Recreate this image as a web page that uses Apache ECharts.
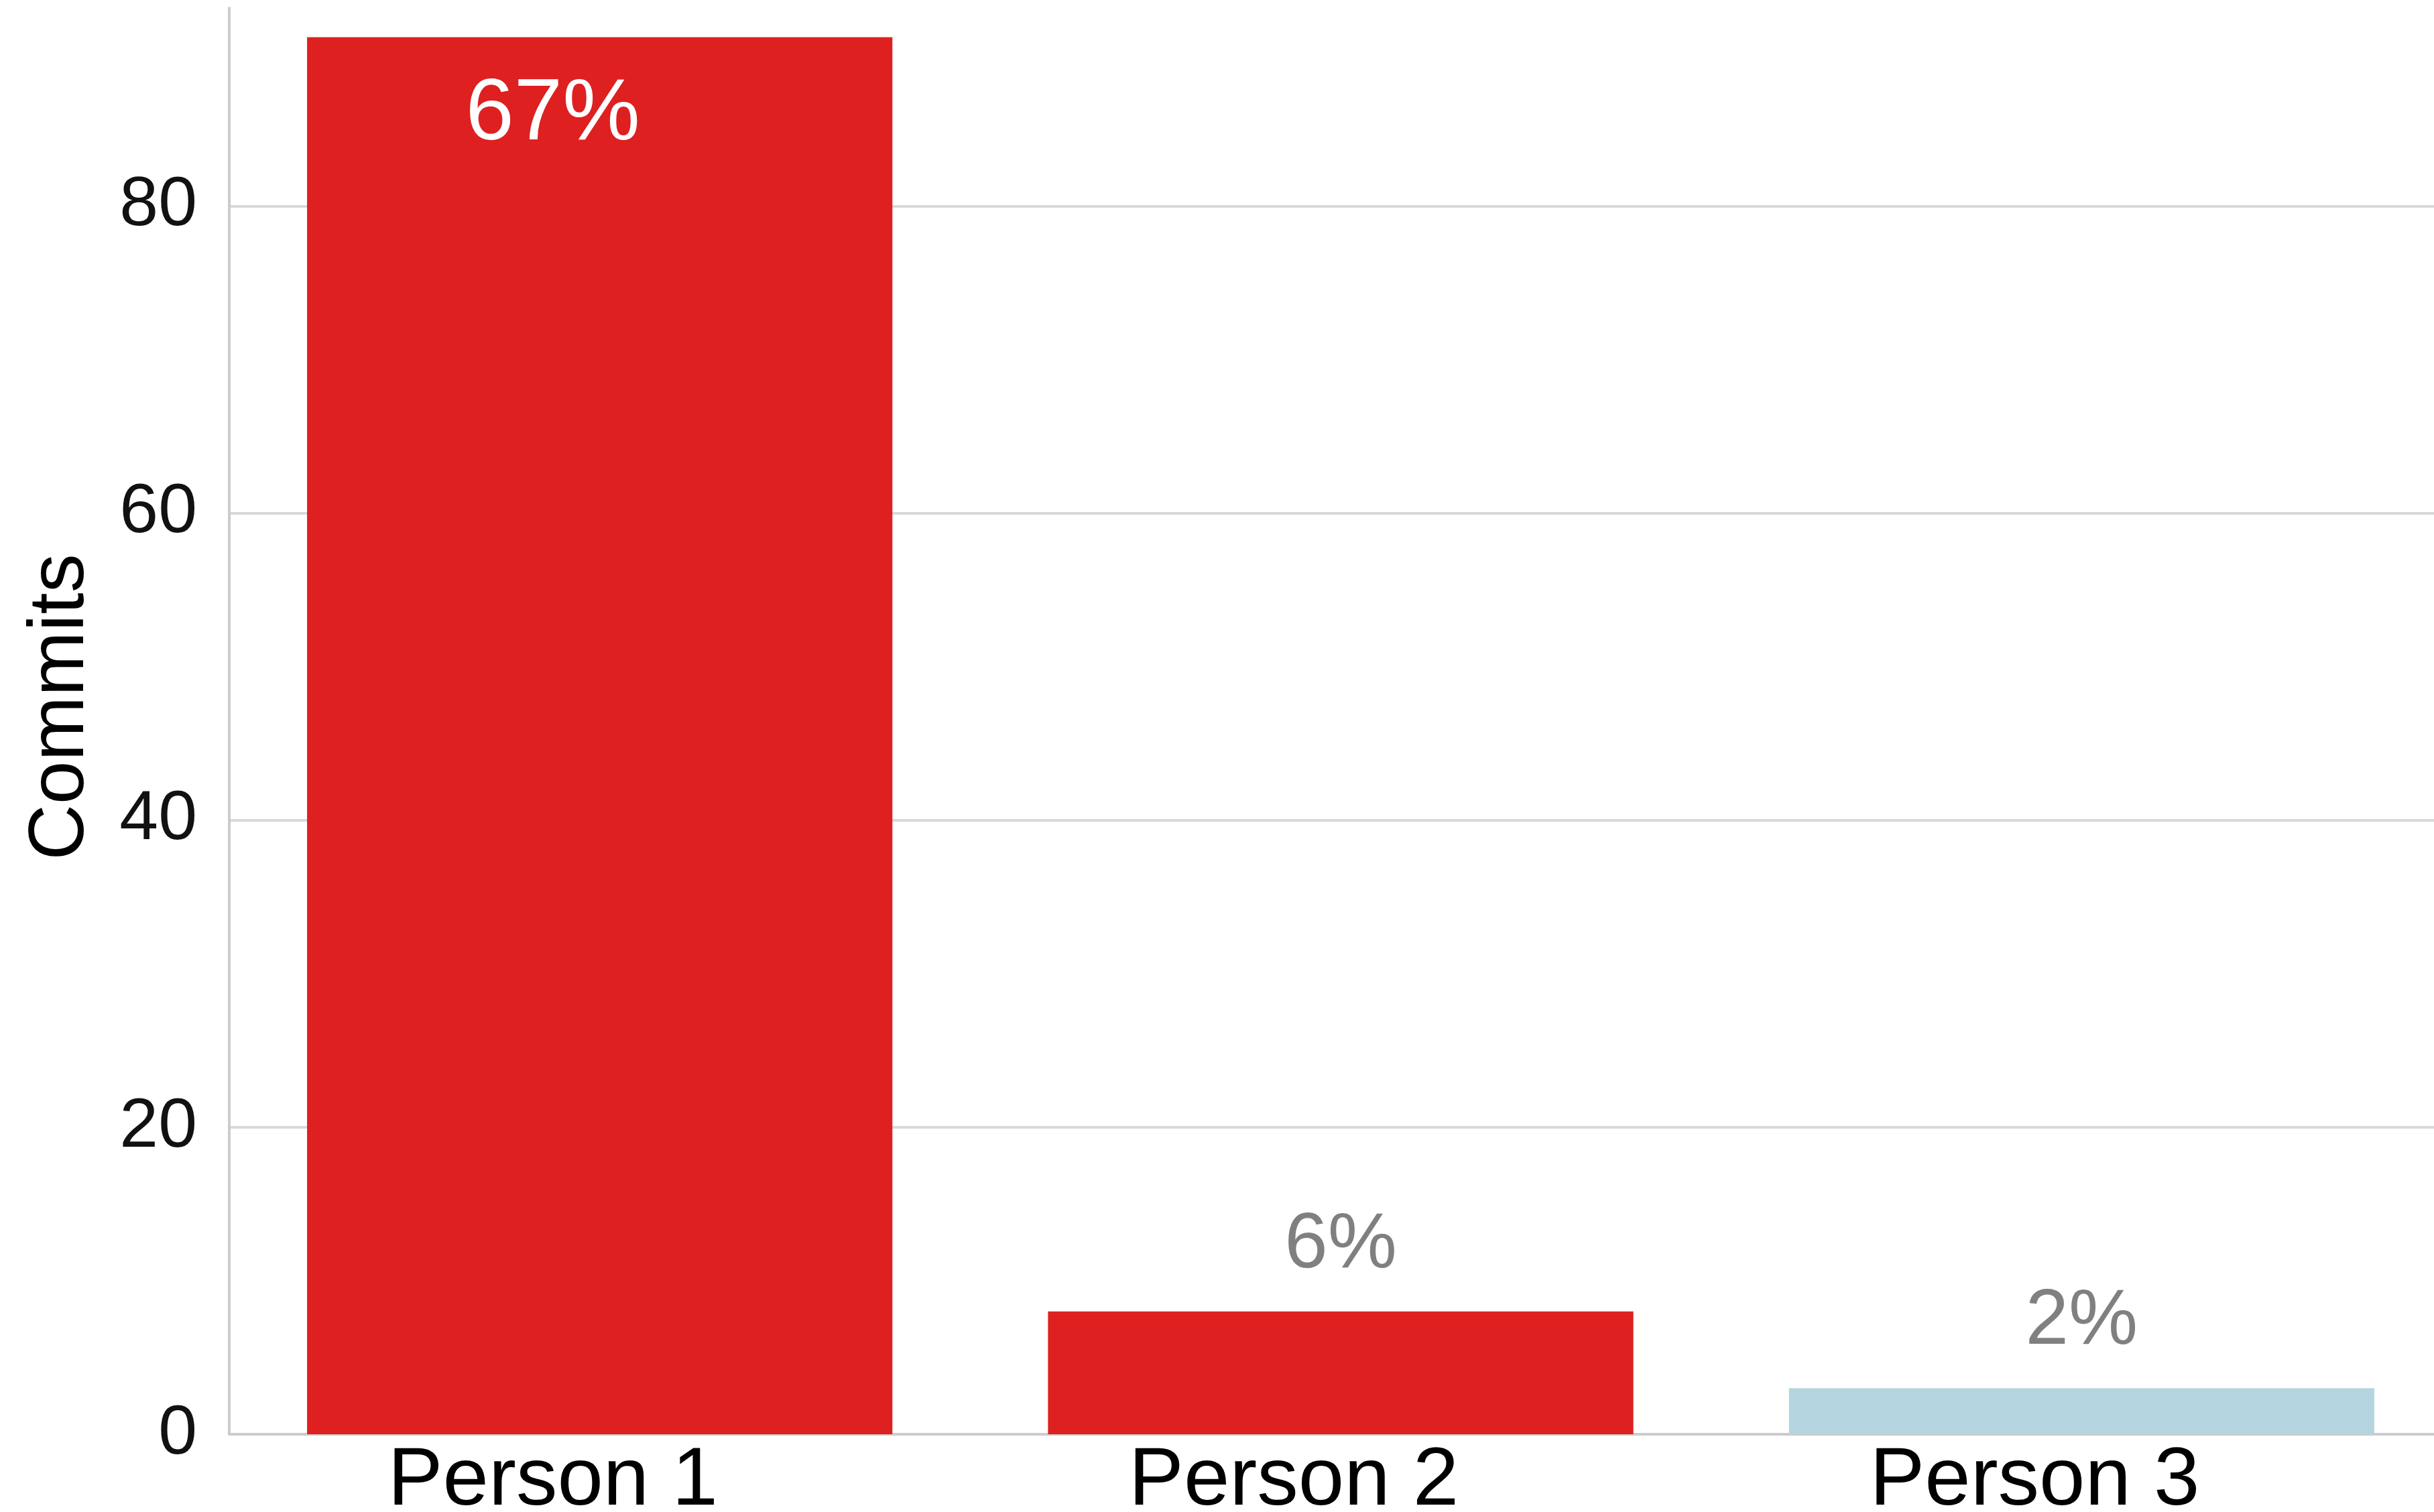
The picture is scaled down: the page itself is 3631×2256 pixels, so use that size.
<!DOCTYPE html>
<html>
<head>
<meta charset="utf-8">
<title>Commits per person</title>
<script src="https://cdn.jsdelivr.net/npm/echarts@6/dist/echarts.min.js"></script>
<style>
  html, body { margin: 0; padding: 0; background: #ffffff; }
  #chart { width: 3631px; height: 2256px; }
</style>
</head>
<body>
<div id="chart"></div>
<script>
// Commit counts per contributor, with each contributor's share of all commits
const categories = ['Person 1', 'Person 2', 'Person 3'];
const commits = [91, 8, 3];
const shareLabels = ['67%', '6%', '2%'];
const yTicks = [0, 20, 40, 60, 80];

const barColors = ['#de2020', '#de2020', '#b4d5df'];
const FONT = '"Liberation Sans", Arial, Helvetica, sans-serif';

const chart = echarts.init(document.getElementById('chart'), null, { renderer: 'canvas' });

const seriesData = commits.map((v, i) => {
  const inside = i === 0;
  return {
    value: v,
    itemStyle: { color: barColors[i] },
    label: {
      show: true,
      formatter: shareLabels[i],
      position: inside ? 'insideTop' : 'top',
      distance: inside ? 52 : 40,
      offset: inside ? [-70, 0] : [0, 0],
      color: inside ? '#ffffff' : '#808080',
      fontSize: inside ? 130 : 116,
      fontFamily: FONT
    }
  };
});

chart.setOption({
  backgroundColor: '#ffffff',
  animation: false,
  grid: {
    left: 342, width: 3316, top: 12, bottom: 116,
    containLabel: false,
    outerBoundsMode: 'none'
  },
  xAxis: {
    type: 'category',
    data: categories,
    axisLine: { show: true, lineStyle: { color: '#cccccc', width: 4 } },
    axisTick: { show: false },
    axisLabel: {
      color: '#000000',
      fontSize: 123,
      fontFamily: FONT,
      margin: 10,
      padding: [0, 140, 0, 0]
    },
    splitLine: { show: false }
  },
  yAxis: {
    type: 'value',
    min: 0,
    max: 92.9,
    interval: 20,
    name: 'Commits',
    nameLocation: 'middle',
    nameGap: 192,
    nameTextStyle: { color: '#000000', fontSize: 116, fontFamily: FONT, padding: [0, 0, 0, 42] },
    axisLine: { show: true, lineStyle: { color: '#cccccc', width: 4 } },
    axisTick: { show: false },
    axisLabel: {
      color: '#111111',
      fontSize: 104,
      fontFamily: FONT,
      margin: 48,
      showMaxLabel: false,
      formatter: v => (yTicks.indexOf(v) >= 0 ? String(v) : '')
    },
    splitLine: { show: true, showMaxLine: false, lineStyle: { color: '#d9d9d9', width: 4 } }
  },
  series: [{
    type: 'bar',
    data: seriesData,
    barCategoryGap: '21%'
  }]
});
</script>
</body>
</html>
